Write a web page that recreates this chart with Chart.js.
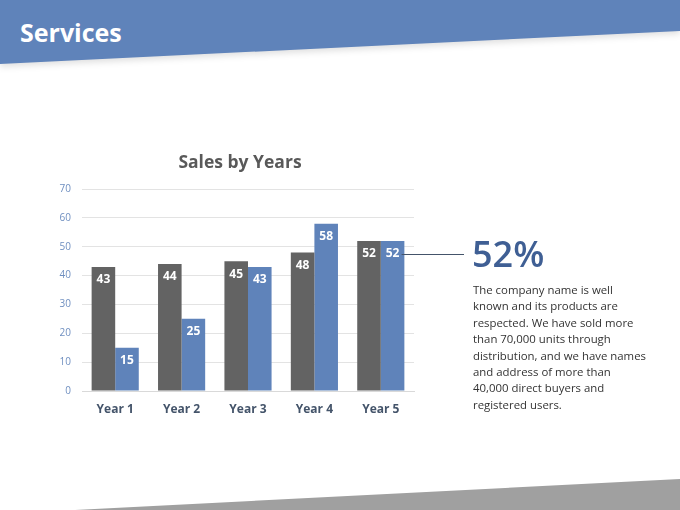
<!DOCTYPE html>
<html>
<head>
<meta charset="utf-8">
<script src="https://cdn.jsdelivr.net/npm/chart.js@4/dist/chart.umd.min.js"></script>
<style>
  html, body { margin:0; padding:0; background:#fff; }
  body { width:680px; height:510px; position:relative; overflow:hidden; font-family:"Open Sans","Noto Sans",sans-serif; }
  #hdrWrap { position:absolute; left:0; top:0; width:680px; height:80px; filter:drop-shadow(0 3px 3px rgba(0,0,0,0.12)); }
  #hdr { position:absolute; left:0; top:0; width:680px; height:80px; background:#5f83ba;
         clip-path:polygon(0 0, 680px 0, 680px 31px, 0 64px); }
  #hdrTitle { position:absolute; left:20px; top:15px; color:#fff; font-size:25px; font-weight:700; }
  #ftr { position:absolute; left:0; top:440px; width:680px; height:70px; background:#a0a0a0;
         clip-path:polygon(75px 70px, 680px 39px, 680px 70px); }
  #chartBox { position:absolute; left:40px; top:140px; width:440px; height:290px; }
  #chartTitle { position:absolute; left:140px; top:149px; width:200px; text-align:center; font-size:17.5px; font-weight:700; color:#595959; }
  #big { position:absolute; left:472px; top:229px; font-size:36px; font-weight:600; color:#3f5f94; }
  #para { position:absolute; left:473px; top:282px; width:200px; font-size:11.4px; line-height:16.4px; color:#333; }
</style>
</head>
<body>
<div id="hdrWrap"><div id="hdr"></div></div>
<div id="hdrTitle">Services</div>
<div id="ftr"></div>
<div id="chartBox"><canvas id="c"></canvas></div>
<div id="chartTitle">Sales by Years</div>
<div id="big">52%</div>
<div id="para">The company name is well<br>known and its products are<br>respected. We have sold more<br>than 70,000 units through<br>distribution, and we have names<br>and address of more than<br>40,000 direct buyers and<br>registered users.</div>
<script>
const categories = ["Year 1", "Year 2", "Year 3", "Year 4", "Year 5"];
const series1 = [43, 44, 45, 48, 52];
const series2 = [15, 25, 43, 58, 52];
const yTicks = [0, 10, 20, 30, 40, 50, 60, 70];

const valueLabels = {
  id: 'valueLabels',
  afterDatasetsDraw(chart) {
    const ctx = chart.ctx;
    ctx.save();
    ctx.font = 'bold 12px "Open Sans", sans-serif';
    ctx.fillStyle = '#ffffff';
    ctx.textAlign = 'center';
    ctx.textBaseline = 'middle';
    chart.data.datasets.forEach((ds, i) => {
      const meta = chart.getDatasetMeta(i);
      meta.data.forEach((el, j) => {
        ctx.fillText(String(ds.data[j]), el.x, el.y + 13);
      });
    });
    const m = chart.getDatasetMeta(1);
    const el = m.data[m.data.length - 1];
    const ly = Math.round(el.y + 13) + 0.5;
    ctx.strokeStyle = '#44546a';
    ctx.lineWidth = 1;
    ctx.beginPath();
    ctx.moveTo(el.x + 9, ly);
    ctx.lineTo(chart.chartArea.right + 50, ly);
    ctx.stroke();
    ctx.restore();
  }
};

new Chart(document.getElementById('c'), {
  type: 'bar',
  data: {
    labels: categories,
    datasets: [
      { label: 'Series 1', data: series1, backgroundColor: '#636363', categoryPercentage: 0.71, barPercentage: 1.0 },
      { label: 'Series 2', data: series2, backgroundColor: '#5f83ba', categoryPercentage: 0.71, barPercentage: 1.0 }
    ]
  },
  options: {
    responsive: true,
    maintainAspectRatio: false,
    animation: false,
    layout: { padding: { left: 0, right: 66, top: 49, bottom: 14 } },
    plugins: {
      legend: { display: false },
      tooltip: { enabled: false },
      title: { display: false }
    },
    scales: {
      x: {
        grid: { display: false, drawTicks: false },
        border: { display: true, color: '#d9d9d9' },
        ticks: { color: '#44546a', font: { family: '"Open Sans", sans-serif', size: 12, weight: 'bold' }, padding: 11 },
        afterFit(s) { s.height = 25; }
      },
      y: {
        min: 0, max: 70,
        afterBuildTicks(s) { s.ticks = yTicks.map(v => ({ value: v })); },
        grid: { color: '#e3e3e3', drawTicks: false },
        border: { display: false },
        ticks: { color: '#6f8fc0', font: { family: '"Open Sans", sans-serif', size: 10 }, padding: 11 },
        afterFit(s) { s.width = 42; }
      }
    }
  },
  plugins: [valueLabels]
});
</script>
</body>
</html>
